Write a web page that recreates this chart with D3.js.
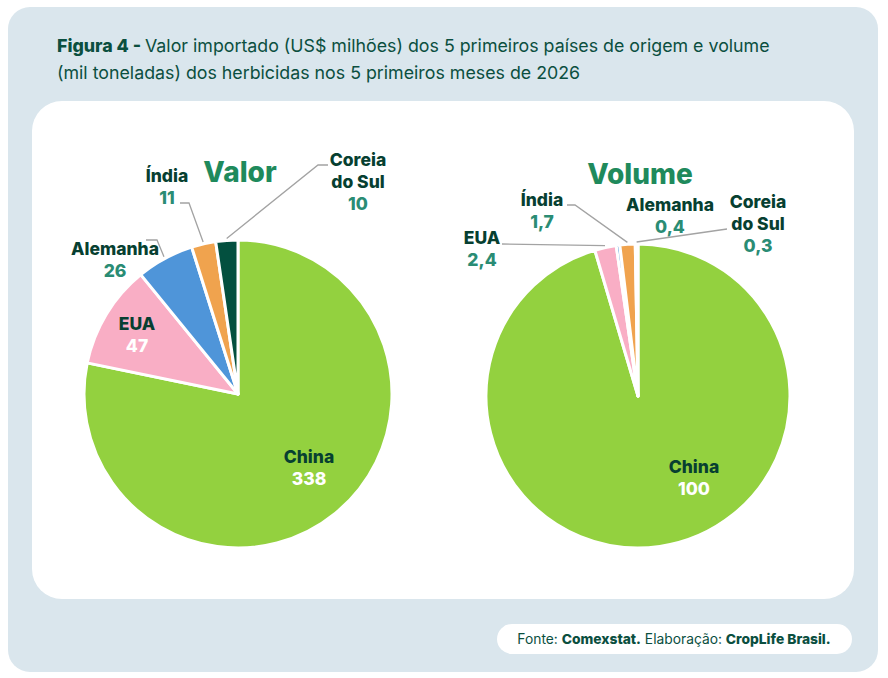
<!DOCTYPE html>
<html>
<head>
<meta charset="utf-8">
<script src="https://cdn.jsdelivr.net/npm/d3@7"></script>
<style>
    body { margin: 0; background: #ffffff; }
    svg { display: block; font-family: Inter, "Open Sans", sans-serif; }
</style>
</head>
<body>
<div id="app"></div>
<script>
"use strict";

// data
const countries = ["China", "EUA", "Alemanha", "Índia", "Coreia do Sul"];
const valorValues = [338, 47, 26, 11, 10];
const volumeValues = [100, 2.4, 0.4, 1.7, 0.3];
const valorLabels = ["338", "47", "26", "11", "10"];
const volumeLabels = ["100", "2,4", "0,4", "1,7", "0,3"];
const sliceColors = ["#93d13f", "#f9aec5", "#4f95d9", "#f0a34e", "#03503f"];

// label placement (offsets from each pie centre), hand-placed like the original
const valorLayout = [
    { dx: 71, dy: 63, inside: true },
    { dx: -101, dy: -70, inside: true },
    { dx: -123, dy: -145, line: [[-92, -154], [-81, -154]] },
    { dx: -71, dy: -218, line: [[-58, -191], [-49, -191]] },
    { dx: 120, dy: -234, line: [[90, -229], [80, -229]] },
];
const volumeLayout = [
    { dx: 56, dy: 71, inside: true },
    { dx: -156, dy: -158, line: [[-136, -152]] },
    { dx: 32, dy: -191 },
    { dx: -96, dy: -196, line: [[-71, -191], [-63, -191]] },
    { dx: 120, dy: -194, line: [[89, -167]] },
];

const W = 888, H = 678;
const svg = d3.select("#app").append("svg").attr("width", W).attr("height", H);

// panels
svg.append("rect").attr("x", 8).attr("y", 7).attr("width", 870).attr("height", 665)
    .attr("rx", 22).attr("fill", "#dae6ed");
svg.append("rect").attr("x", 32).attr("y", 101).attr("width", 822).attr("height", 498)
    .attr("rx", 30).attr("fill", "#ffffff");

// title
const title = svg.append("text").attr("x", 57).attr("y", 52)
    .attr("font-size", 17.8).attr("fill", "#0b4f3f");
title.append("tspan").attr("font-weight", 800).text("Figura 4 - ");
title.append("tspan").text("Valor importado (US$ milhões) dos 5 primeiros países de origem e volume");
svg.append("text").attr("x", 57).attr("y", 79)
    .attr("font-size", 17.8).attr("fill", "#0b4f3f")
    .text("(mil toneladas) dos herbicidas nos 5 primeiros meses de 2026");

// footer
svg.append("rect").attr("x", 497).attr("y", 624).attr("width", 355).attr("height", 30)
    .attr("rx", 15).attr("fill", "#ffffff");
const foot = svg.append("text").attr("x", 674).attr("y", 644).attr("text-anchor", "middle")
    .attr("font-size", 13.8).attr("fill", "#0b4f3f");
foot.append("tspan").text("Fonte: ");
foot.append("tspan").attr("font-weight", 800).text("Comexstat.");
foot.append("tspan").text("  Elaboração: ");
foot.append("tspan").attr("font-weight", 800).text("CropLife Brasil.");

function drawPie(cx, cy, r, values, valueLabels, layout, heading) {
    const g = svg.append("g").attr("transform", `translate(${cx},${cy})`);
    const pie = d3.pie().sort(null)(values);
    const arc = d3.arc().innerRadius(0).outerRadius(r);
    const edge = d3.arc().innerRadius(r + 2).outerRadius(r + 2);

    g.selectAll("path.slice").data(pie).enter()
        .append("path")
        .attr("class", "slice")
        .attr("d", arc)
        .attr("fill", (d, i) => sliceColors[i])
        .attr("stroke", "#ffffff")
        .attr("stroke-width", 3)
        .attr("stroke-linejoin", "round");

    g.append("text").attr("x", 2).attr("y", -212).attr("text-anchor", "middle")
        .attr("font-size", 28).attr("font-weight", 800).attr("fill", "#1f8a5c")
        .text(heading);

    pie.forEach((d, i) => {
        let lay = layout[i];
        if (lay.line) {
            let pts = lay.line.concat([edge.centroid(d)]);
            g.append("polyline")
                .attr("points", pts.map(p => p.join(",")).join(" "))
                .attr("fill", "none").attr("stroke", "#a3a3a3").attr("stroke-width", 1.3);
        }
        let nameLines = countries[i] == "Coreia do Sul" ? ["Coreia", "do Sul"] : [countries[i]];
        let t = g.append("text").attr("text-anchor", "middle").attr("font-size", 17.5).attr("font-weight", 800);
        nameLines.forEach((s, k) => {
            t.append("tspan").attr("x", lay.dx).attr("y", lay.dy + 6 + k * 22)
                .attr("fill", "#073f31").text(s);
        });
        t.append("tspan").attr("x", lay.dx).attr("y", lay.dy + 6 + nameLines.length * 22)
            .attr("fill", lay.inside ? "#ffffff" : "#2a8c74").text(valueLabels[i]);
    });
}

drawPie(238, 394, 154, valorValues, valorLabels, valorLayout, "Valor");
drawPie(638, 396, 152, volumeValues, volumeLabels, volumeLayout, "Volume");
</script>
</body>
</html>
